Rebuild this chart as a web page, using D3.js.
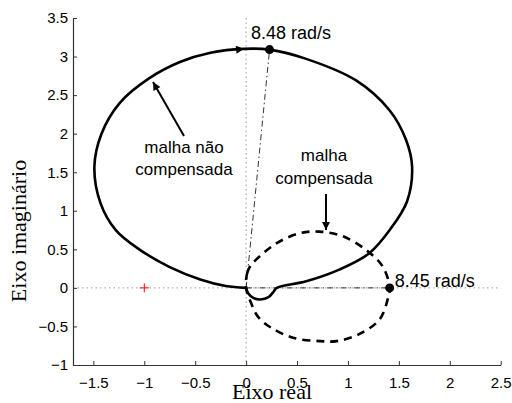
<!DOCTYPE html>
<html>
<head>
<meta charset="utf-8">
<script src="https://cdn.jsdelivr.net/npm/d3@7"></script>
<style>
  html, body { margin: 0; padding: 0; background: #fff; }
  svg { display: block; }
  .tick text { font-family: "Liberation Sans", Arial, Helvetica, sans-serif; font-size: 15px; fill: #000; }
</style>
</head>
<body>
<svg id="chart" width="512" height="403"></svg>
<script>
// Nyquist loci: uncompensated (solid) and compensated (dashed)
const solidRe = [0, -0.2, -0.45, -0.75, -1.05, -1.28, -1.43, -1.49, -1.42, -1.24, -0.95, -0.65, -0.35, -0.02, 0.23, 0.59, 1.08, 1.41, 1.57, 1.63, 1.58, 1.41, 1.21, 0.92, 0.59, 0.30, 0.27, 0.22, 0.14, 0.07, 0.02, 0];
const solidIm = [0, 0.025, 0.11, 0.27, 0.50, 0.75, 1.1, 1.57, 2.0, 2.40, 2.72, 2.93, 3.05, 3.10, 3.09, 2.97, 2.69, 2.30, 1.92, 1.57, 1.12, 0.75, 0.45, 0.24, 0.085, 0.0, -0.05, -0.12, -0.15, -0.13, -0.07, 0];

const dashedRe = [0, 0.01, 0.04, 0.10, 0.30, 0.53, 0.72, 0.95, 1.18, 1.34, 1.41, 1.39, 1.31, 1.11, 0.89, 0.72, 0.47, 0.25, 0.12, 0.05];
const dashedIm = [0, 0.19, 0.28, 0.37, 0.58, 0.71, 0.73, 0.67, 0.49, 0.28, 0, -0.15, -0.41, -0.60, -0.69, -0.69, -0.65, -0.52, -0.38, -0.20];

// Crossover frequency markers
const markerRe = [0.23, 1.41];
const markerIm = [3.09, 0];
const markerLabels = ["8.48 rad/s", "8.45 rad/s"];

// Critical point
const criticalRe = -1;
const criticalIm = 0;

const xTicks = [-1.5, -1, -0.5, 0, 0.5, 1, 1.5, 2, 2.5];
const yTicks = [-1, -0.5, 0, 0.5, 1, 1.5, 2, 2.5, 3, 3.5];
const xDomain = [-1.7, 2.5];
const yDomain = [-1, 3.5];

const sans = '"Liberation Sans", Arial, Helvetica, sans-serif';
const serif = '"Liberation Serif", "Times New Roman", Times, serif';

const svg = d3.select("#chart");
const x = d3.scaleLinear().domain(xDomain).range([73, 500.7]);
const y = d3.scaleLinear().domain(yDomain).range([365, 18]);
const fmt = d3.format("~g");

// arrowhead marker
const defs = svg.append("defs");
defs.append("marker")
  .attr("id", "head")
  .attr("viewBox", "0 0 10 10")
  .attr("refX", 10).attr("refY", 5)
  .attr("markerWidth", 11).attr("markerHeight", 8)
  .attr("markerUnits", "userSpaceOnUse")
  .attr("orient", "auto")
  .append("path").attr("d", "M0,0 L10,5 L0,10 Z").attr("fill", "#000");

// zero lines
svg.append("line")
  .attr("x1", x(0)).attr("x2", x(0)).attr("y1", y(yDomain[1])).attr("y2", y(yDomain[0]))
  .attr("stroke", "#9a9a9a").attr("stroke-width", 1).attr("stroke-dasharray", "1.5,3");
svg.append("line")
  .attr("x1", x(xDomain[0])).attr("x2", x(xDomain[1])).attr("y1", y(0)).attr("y2", y(0))
  .attr("stroke", "#9a9a9a").attr("stroke-width", 1).attr("stroke-dasharray", "1.5,3");

// axes (inward ticks, no box)
const xAxis = d3.axisBottom(x).tickValues(xTicks).tickFormat(fmt).tickSizeInner(-4).tickSizeOuter(0).tickPadding(12);
const yAxis = d3.axisLeft(y).tickValues(yTicks).tickFormat(fmt).tickSizeInner(-4).tickSizeOuter(0).tickPadding(5);
const gx = svg.append("g").attr("transform", `translate(0,${y(yDomain[0])})`).call(xAxis);
const gy = svg.append("g").attr("transform", `translate(${x(xDomain[0])},0)`).call(yAxis);
[gx, gy].forEach(g => {
  g.select(".domain").attr("stroke", "#333").attr("stroke-width", 1.2);
  g.selectAll(".tick line").attr("stroke", "#333");
});

// dash-dot rays from origin to crossover points
markerRe.forEach((re, i) => {
  svg.append("line")
    .attr("x1", x(0)).attr("y1", y(0))
    .attr("x2", x(re)).attr("y2", y(markerIm[i]))
    .attr("stroke", "#000").attr("stroke-width", 0.8)
    .attr("stroke-dasharray", "6,3,1.5,3");
});

// loci
const solidPts = solidRe.map((r, i) => [r, solidIm[i]]);
const dashedPts = dashedRe.map((r, i) => [r, dashedIm[i]]);
const line = d3.line().x(d => x(d[0])).y(d => y(d[1])).curve(d3.curveCatmullRom.alpha(0.5));
const closedLine = d3.line().x(d => x(d[0])).y(d => y(d[1])).curve(d3.curveCatmullRomClosed.alpha(0.5));

svg.append("path").datum(solidPts).attr("d", line)
  .attr("fill", "none").attr("stroke", "#000").attr("stroke-width", 2.6).attr("stroke-linejoin", "round");
svg.append("path").datum(dashedPts).attr("d", closedLine)
  .attr("fill", "none").attr("stroke", "#000").attr("stroke-width", 2.6).attr("stroke-dasharray", "8,6");

// direction arrow on the uncompensated locus
const ai = solidRe.indexOf(-0.02);
svg.append("line")
  .attr("x1", x(solidRe[ai - 1])).attr("y1", y(solidIm[ai - 1]))
  .attr("x2", x(solidRe[ai])).attr("y2", y(solidIm[ai]))
  .attr("stroke", "none")
  .attr("marker-end", "url(#head)");

// crossover markers and labels
markerRe.forEach((re, i) => {
  svg.append("circle").attr("cx", x(re)).attr("cy", y(markerIm[i])).attr("r", 4.5).attr("fill", "#000");
});
svg.append("text").attr("x", 251).attr("y", 39)
  .attr("font-family", sans).attr("font-size", 18).text(markerLabels[0]);
svg.append("text").attr("x", x(markerRe[1]) + 5).attr("y", y(markerIm[1]) - 1)
  .attr("font-family", sans).attr("font-size", 18).text(markerLabels[1]);

// critical point -1 + j0
const cx = x(criticalRe), cy = y(criticalIm);
svg.append("path").attr("d", `M${cx - 4.5},${cy}H${cx + 4.5}M${cx},${cy - 4.5}V${cy + 4.5}`)
  .attr("stroke", "#ff0000").attr("stroke-width", 1);

// annotations
function note(lines, cxText, baselines) {
  lines.forEach((t, i) => {
    svg.append("text").attr("x", cxText).attr("y", baselines[i])
      .attr("text-anchor", "middle").attr("font-family", sans).attr("font-size", 17).text(t);
  });
}
note(["malha não", "compensada"], 184, [153, 175]);
note(["malha", "compensada"], 324, [161, 184]);

svg.append("line").attr("x1", 184).attr("y1", 136).attr("x2", 153).attr("y2", 82)
  .attr("stroke", "#000").attr("stroke-width", 2).attr("marker-end", "url(#head)");
svg.append("line").attr("x1", 326).attr("y1", 194).attr("x2", 326).attr("y2", 230)
  .attr("stroke", "#000").attr("stroke-width", 2).attr("marker-end", "url(#head)");

// axis labels
svg.append("text").attr("x", 272).attr("y", 399)
  .attr("text-anchor", "middle").attr("font-family", serif).attr("font-size", 22).text("Eixo real");
svg.append("text").attr("transform", "translate(26,231) rotate(-90)")
  .attr("text-anchor", "middle").attr("font-family", serif).attr("font-size", 22).text("Eixo imaginário");
</script>
</body>
</html>
